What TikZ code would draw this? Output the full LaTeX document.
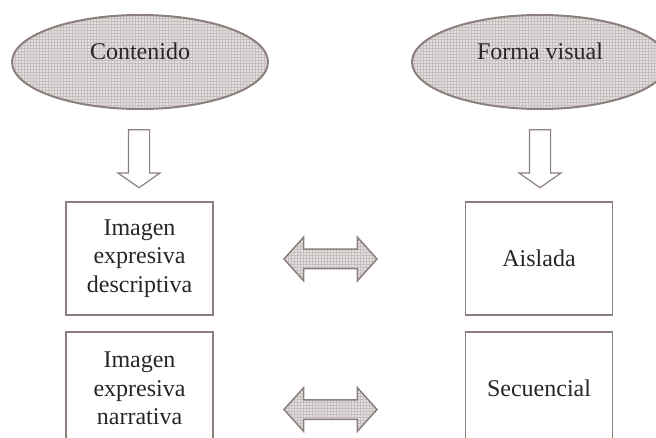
\documentclass[tikz,border=0pt]{standalone}
\usepackage{fontspec}
\setmainfont{Liberation Serif}
\usetikzlibrary{shapes.geometric,shapes.arrows,patterns}
\definecolor{borde}{RGB}{140,128,126}
\definecolor{relleno}{RGB}{228,224,224}
\definecolor{trama}{RGB}{198,190,190}
\begin{document}
\begin{tikzpicture}[x=1pt,y=-1pt,
    every node/.append style={text=black!85,font=\fontsize{24}{28.5}\selectfont},
    nube/.style={ellipse,draw=borde,line width=2pt,preaction={fill=relleno},pattern=grid,pattern color=trama,minimum width=256pt,minimum height=94pt,inner sep=0pt},
    caja/.style={rectangle,draw=borde,line width=1.5pt,fill=white,minimum width=147pt,minimum height=113pt,align=center,inner sep=0pt},
    bajada/.style={single arrow,draw=borde,line width=1.2pt,fill=white,rotate=-90,inner xsep=0pt,inner ysep=10pt,minimum width=0pt,minimum height=58pt,single arrow head extend=10.5pt,single arrow tip angle=110},
    doble/.style={double arrow,draw=borde,line width=1.5pt,preaction={fill=relleno},pattern=grid,pattern color=trama,inner xsep=0pt,inner ysep=9pt,minimum width=0pt,minimum height=93pt,double arrow head extend=12pt,double arrow tip angle=96}
  ]
  \path[use as bounding box,clip] (0,0) rectangle (656,438);
  % ovalos de arriba
  \node[nube] (contenido) at (140,62) {};
  \node (tcontenido) at ([yshift=11pt]contenido.center) {Contenido};
  \node[nube] (forma) at (540,62) {};
  \node (tforma) at ([yshift=11pt]forma.center) {Forma visual};
  % flechas hacia abajo
  \node[bajada] (baja1) at (139,155) {};
  \node[bajada] (baja2) at (540,155) {};
  % cajas
  \node[caja] (descriptiva) at (139.5,258.5) {Imagen\\expresiva\\descriptiva};
  \node[caja] (narrativa) at (139.5,388.5) {Imagen\\expresiva\\narrativa};
  \node[caja] (aislada) at (539,258.5) {Aislada};
  \node[caja] (secuencial) at (539,388.5) {Secuencial};
  % flechas dobles
  \node[doble] (par1) at (330.5,259) {};
  \node[doble] (par2) at (330.5,409.5) {};
\end{tikzpicture}
\end{document}
